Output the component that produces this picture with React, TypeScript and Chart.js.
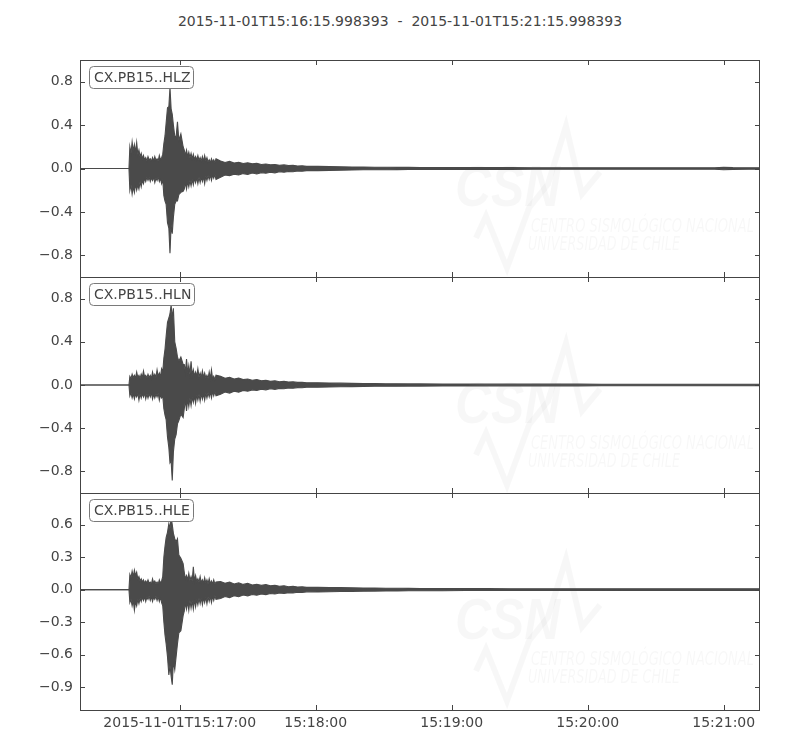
import React, { useEffect, useRef } from "react";
import { Chart, registerables } from "chart.js";
Chart.register(...registerables);

// ---------- data ----------
const startLabel = "2015-11-01T15:16:15.998393";
const endLabel = "2015-11-01T15:21:15.998393";
const channelNames = ["CX.PB15..HLZ", "CX.PB15..HLN", "CX.PB15..HLE"];

// seconds after start time
const xTickSeconds = [44.0016, 104.0016, 164.0016, 224.0016, 284.0016];
const xTickLabels = ["2015-11-01T15:17:00", "15:18:00", "15:19:00", "15:20:00", "15:21:00"];

const yTicksZ = [-0.8, -0.4, 0, 0.4, 0.8];
const yTicksN = [-0.8, -0.4, 0, 0.4, 0.8];
const yTicksE = [-0.9, -0.6, -0.3, 0, 0.3, 0.6];
const yMinMaxZ = [-1.0, 1.0];
const yMinMaxN = [-1.0, 1.0];
const yMinMaxE = [-1.113, 0.893];

// envelope sample times (s after start)
const envTimes = [
  0, 21.6,
  22, 22.5, 23, 23.5, 24, 24.5, 25, 25.5, 26, 26.5, 27, 27.5, 28, 28.5, 29, 29.5,
  30, 30.5, 31, 31.5, 32, 32.5, 33, 33.5, 34, 34.5, 35, 35.5, 36, 36.5, 37, 37.5,
  38, 38.6, 39.2, 39.7, 40.2, 40.7, 41.2, 41.8, 42.4, 43, 43.6, 44.5, 45.5,
  46, 46.5, 47, 47.5, 48, 48.5, 49, 49.5, 50, 50.5, 51, 51.5, 52, 52.5, 53, 53.5,
  54, 54.5, 55, 55.5, 56, 56.5, 57, 57.5, 58, 58.5, 59, 59.5, 60,
  62, 64, 66, 68, 70, 72, 74, 76, 78, 80, 82, 84, 86, 88, 90, 92, 94, 96, 98, 100,
  105, 110, 115, 120, 125, 130, 135, 140, 145, 150,
  160, 170, 180, 190, 200, 210, 220, 230, 240, 250, 260, 270, 280,
  284, 288, 295, 300,
];

const hlzUpper = [
  0, 0,
  0.20, 0.14, 0.245, 0.16, 0.22, 0.15, 0.24, 0.13, 0.17, 0.11, 0.14, 0.09, 0.12, 0.08, 0.10, 0.07,
  0.11, 0.08, 0.09, 0.065, 0.10, 0.07, 0.11, 0.075, 0.09, 0.07, 0.12, 0.08, 0.10, 0.13, 0.23, 0.30,
  0.42, 0.56, 0.57, 0.745, 0.55, 0.50, 0.40, 0.30, 0.29, 0.43, 0.26, 0.32, 0.20,
  0.17, 0.12, 0.17, 0.11, 0.15, 0.10, 0.14, 0.09, 0.13, 0.085, 0.11, 0.08, 0.12, 0.075, 0.10, 0.07,
  0.11, 0.065, 0.12, 0.07, 0.10, 0.06, 0.08, 0.055, 0.09, 0.06, 0.08, 0.055, 0.09,
  0.07, 0.055, 0.065, 0.05, 0.058, 0.046, 0.052, 0.043, 0.048, 0.037, 0.042, 0.034, 0.037, 0.03, 0.033, 0.027, 0.029, 0.023, 0.025, 0.02,
  0.02, 0.018, 0.016, 0.014, 0.013, 0.012, 0.011, 0.01, 0.01, 0.009,
  0.009, 0.008, 0.008, 0.008, 0.007, 0.007, 0.007, 0.007, 0.007, 0.007, 0.007, 0.007, 0.007,
  0.012, 0.008, 0.007, 0.007,
];
const hlzLower = [
  0, 0,
  -0.20, -0.15, -0.235, -0.17, -0.22, -0.14, -0.20, -0.15, -0.19, -0.12, -0.17, -0.11, -0.14, -0.09, -0.12, -0.08,
  -0.11, -0.08, -0.12, -0.085, -0.11, -0.08, -0.13, -0.09, -0.11, -0.075, -0.12, -0.09, -0.14, -0.10, -0.25, -0.30,
  -0.33, -0.50, -0.55, -0.78, -0.52, -0.60, -0.45, -0.33, -0.30, -0.30, -0.24, -0.22, -0.21,
  -0.19, -0.13, -0.19, -0.12, -0.17, -0.11, -0.16, -0.10, -0.15, -0.09, -0.13, -0.085, -0.14, -0.08, -0.13, -0.08,
  -0.12, -0.075, -0.14, -0.07, -0.11, -0.065, -0.10, -0.06, -0.11, -0.06, -0.09, -0.055, -0.10,
  -0.08, -0.06, -0.066, -0.052, -0.06, -0.047, -0.055, -0.042, -0.05, -0.038, -0.044, -0.034, -0.04, -0.03, -0.034, -0.027, -0.03, -0.023, -0.025, -0.02,
  -0.02, -0.018, -0.015, -0.013, -0.012, -0.011, -0.011, -0.01, -0.009, -0.009,
  -0.009, -0.008, -0.008, -0.008, -0.007, -0.007, -0.007, -0.007, -0.007, -0.007, -0.007, -0.007, -0.007,
  -0.012, -0.008, -0.007, -0.007,
];

const hlnUpper = [
  0, 0,
  0.08, 0.06, 0.10, 0.07, 0.09, 0.065, 0.12, 0.07, 0.09, 0.06, 0.10, 0.07, 0.13, 0.075, 0.09, 0.065,
  0.10, 0.07, 0.09, 0.06, 0.12, 0.075, 0.10, 0.07, 0.14, 0.08, 0.11, 0.075, 0.15, 0.12, 0.25, 0.33,
  0.45, 0.58, 0.62, 0.66, 0.74, 0.62, 0.71, 0.40, 0.34, 0.26, 0.22, 0.26, 0.19,
  0.19, 0.12, 0.24, 0.11, 0.18, 0.10, 0.22, 0.09, 0.14, 0.085, 0.12, 0.08, 0.15, 0.075, 0.11, 0.07,
  0.13, 0.07, 0.11, 0.065, 0.09, 0.06, 0.12, 0.06, 0.14, 0.055, 0.08, 0.05, 0.09,
  0.08, 0.062, 0.072, 0.055, 0.064, 0.05, 0.056, 0.044, 0.05, 0.039, 0.044, 0.034, 0.039, 0.03, 0.034, 0.027, 0.03, 0.024, 0.026, 0.021,
  0.02, 0.018, 0.017, 0.015, 0.014, 0.013, 0.012, 0.011, 0.01, 0.01,
  0.009, 0.009, 0.008, 0.008, 0.008, 0.008, 0.008, 0.007, 0.007, 0.007, 0.007, 0.007, 0.007,
  0.007, 0.007, 0.007, 0.007,
];
const hlnLower = [
  0, 0,
  -0.10, -0.07, -0.12, -0.08, -0.13, -0.085, -0.11, -0.075, -0.14, -0.08, -0.12, -0.08, -0.11, -0.075, -0.13, -0.08,
  -0.12, -0.08, -0.11, -0.07, -0.13, -0.085, -0.12, -0.08, -0.11, -0.075, -0.14, -0.09, -0.12, -0.10, -0.22, -0.28,
  -0.32, -0.48, -0.58, -0.72, -0.70, -0.885, -0.62, -0.50, -0.46, -0.36, -0.33, -0.27, -0.30,
  -0.22, -0.14, -0.24, -0.13, -0.20, -0.12, -0.19, -0.11, -0.16, -0.10, -0.17, -0.09, -0.14, -0.085, -0.15, -0.08,
  -0.13, -0.08, -0.14, -0.075, -0.12, -0.07, -0.11, -0.065, -0.12, -0.06, -0.10, -0.06, -0.10,
  -0.085, -0.065, -0.075, -0.057, -0.066, -0.05, -0.058, -0.045, -0.05, -0.04, -0.045, -0.035, -0.04, -0.031, -0.035, -0.028, -0.03, -0.024, -0.026, -0.021,
  -0.02, -0.018, -0.016, -0.015, -0.014, -0.012, -0.012, -0.011, -0.01, -0.01,
  -0.009, -0.009, -0.008, -0.008, -0.008, -0.008, -0.008, -0.007, -0.007, -0.007, -0.007, -0.007, -0.007,
  -0.007, -0.007, -0.007, -0.007,
];

const hleUpper = [
  0, 0,
  0.14, 0.11, 0.17, 0.12, 0.18, 0.13, 0.16, 0.10, 0.12, 0.08, 0.10, 0.07, 0.09, 0.06, 0.08, 0.06,
  0.09, 0.06, 0.07, 0.05, 0.10, 0.06, 0.08, 0.055, 0.07, 0.05, 0.09, 0.06, 0.08, 0.12, 0.30, 0.40,
  0.48, 0.53, 0.61, 0.56, 0.67, 0.60, 0.52, 0.47, 0.44, 0.47, 0.32, 0.29, 0.24,
  0.16, 0.10, 0.13, 0.09, 0.15, 0.085, 0.12, 0.08, 0.21, 0.08, 0.13, 0.075, 0.10, 0.07, 0.12, 0.065,
  0.09, 0.06, 0.11, 0.06, 0.09, 0.055, 0.10, 0.055, 0.08, 0.05, 0.09, 0.05, 0.07,
  0.075, 0.058, 0.07, 0.052, 0.062, 0.048, 0.057, 0.043, 0.05, 0.039, 0.046, 0.035, 0.04, 0.031, 0.035, 0.027, 0.031, 0.024, 0.026, 0.021,
  0.022, 0.02, 0.018, 0.016, 0.015, 0.014, 0.013, 0.012, 0.011, 0.01,
  0.01, 0.009, 0.009, 0.008, 0.008, 0.008, 0.008, 0.008, 0.007, 0.007, 0.007, 0.007, 0.007,
  0.007, 0.007, 0.007, 0.007,
];
const hleLower = [
  0, 0,
  -0.12, -0.09, -0.15, -0.10, -0.19, -0.11, -0.15, -0.09, -0.13, -0.08, -0.11, -0.07, -0.10, -0.065, -0.11, -0.07,
  -0.09, -0.06, -0.10, -0.065, -0.11, -0.07, -0.09, -0.06, -0.10, -0.065, -0.11, -0.07, -0.12, -0.15, -0.30, -0.42,
  -0.50, -0.62, -0.79, -0.70, -0.80, -0.88, -0.66, -0.74, -0.62, -0.50, -0.40, -0.38, -0.24,
  -0.20, -0.12, -0.18, -0.11, -0.19, -0.10, -0.17, -0.10, -0.18, -0.09, -0.16, -0.09, -0.14, -0.08, -0.13, -0.075,
  -0.14, -0.075, -0.12, -0.07, -0.13, -0.065, -0.11, -0.06, -0.12, -0.06, -0.10, -0.055, -0.09,
  -0.082, -0.064, -0.074, -0.056, -0.066, -0.05, -0.058, -0.045, -0.052, -0.04, -0.046, -0.036, -0.041, -0.032, -0.036, -0.028, -0.031, -0.024, -0.026, -0.021,
  -0.022, -0.02, -0.018, -0.016, -0.015, -0.014, -0.013, -0.012, -0.011, -0.01,
  -0.01, -0.009, -0.009, -0.008, -0.008, -0.008, -0.008, -0.008, -0.007, -0.007, -0.007, -0.007, -0.007,
  -0.007, -0.007, -0.007, -0.007,
];

// ---------- layout / style ----------
const W = 800;
const H = 750;
const PLOT_LEFT = 80;
const PLOT_RIGHT = 760;
const PANEL_EDGES = [60, 277, 493, 710];
const X_AXIS_H = 30;
const INK = "#444444";
const TRACE = "#4a4a4a";
const FONT = '"DejaVu Sans", Verdana, sans-serif';
const WATERMARK = "rgba(0,0,0,0.03)";

const panels = [
  { name: channelNames[0], upper: hlzUpper, lower: hlzLower, yTicks: yTicksZ, range: yMinMaxZ },
  { name: channelNames[1], upper: hlnUpper, lower: hlnLower, yTicks: yTicksN, range: yMinMaxN },
  { name: channelNames[2], upper: hleUpper, lower: hleLower, yTicks: yTicksE, range: yMinMaxE },
];

const fmtY = (v: number) => {
  const s = Math.abs(v).toFixed(1);
  return v < 0 ? "\u2212" + s : s;
};

const drawWatermark = (ctx: CanvasRenderingContext2D, top: number) => {
  ctx.save();
  ctx.fillStyle = WATERMARK;
  ctx.strokeStyle = WATERMARK;
  ctx.save();
  ctx.font = `italic bold 58px "Liberation Sans", Arial, sans-serif`;
  ctx.translate(455, top + 146);
  ctx.scale(0.86, 1);
  ctx.textBaseline = "alphabetic";
  ctx.fillText("CSN", 0, 0);
  ctx.restore();
  ctx.lineWidth = 6;
  ctx.lineJoin = "miter";
  ctx.beginPath();
  const pts = [
    [476, 178], [486, 156], [507, 208], [529, 148], [548, 124], [566, 66], [582, 134], [600, 112],
  ];
  pts.forEach(([x, y], i) => (i ? ctx.lineTo(x, top + y) : ctx.moveTo(x, top + y)));
  ctx.stroke();
  const lines: [string, number, number, number][] = [
    ["CENTRO SISMOLÓGICO NACIONAL", 531, 172, 223],
    ["UNIVERSIDAD DE CHILE", 528, 190, 152],
  ];
  ctx.font = `italic 20px "DejaVu Sans Condensed", "Liberation Sans", sans-serif`;
  lines.forEach(([t, x, y, w]) => {
    const m = ctx.measureText(t).width;
    ctx.save();
    ctx.translate(x, top + y);
    ctx.scale(w / m, 1);
    ctx.fillText(t, 0, 0);
    ctx.restore();
  });
  ctx.restore();
};

const panelPlugin = {
  id: "panelDecor",
  beforeDatasetsDraw(chart: any) {
    const { ctx, chartArea } = chart;
    ctx.save();
    ctx.beginPath();
    ctx.rect(chartArea.left, chartArea.top, chartArea.right - chartArea.left, chartArea.bottom - chartArea.top);
    ctx.clip();
    drawWatermark(ctx, chartArea.top);
    ctx.restore();
  },
  afterDatasetsDraw(chart: any, _a: any, opts: any) {
    const { ctx, chartArea, scales } = chart;
    const { left, right, top, bottom } = chartArea;
    ctx.save();
    ctx.strokeStyle = INK;
    ctx.lineWidth = 1;
    const tl = 5;
    ctx.beginPath();
    scales.y.ticks.forEach((t: any) => {
      const y = Math.round(scales.y.getPixelForValue(t.value)) + 0.5;
      ctx.moveTo(left, y);
      ctx.lineTo(left + tl, y);
      ctx.moveTo(right, y);
      ctx.lineTo(right - tl, y);
    });
    xTickSeconds.forEach((s) => {
      const x = Math.round(scales.x.getPixelForValue(s)) + 0.5;
      ctx.moveTo(x, top);
      ctx.lineTo(x, top + tl);
      ctx.moveTo(x, bottom);
      ctx.lineTo(x, bottom - tl);
    });
    ctx.stroke();
    const L = Math.round(left) + 0.5;
    const R = Math.round(right) - 0.5;
    const T = Math.round(top) + 0.5;
    const B = Math.round(bottom) + 0.5;
    ctx.strokeRect(L, T, R - L, B - T);
    // channel label box
    const bx = left + 9.5;
    const by = top + 6.5;
    ctx.font = `14px ${FONT}`;
    const tw = ctx.measureText(opts.label).width;
    const bw = Math.round(tw + 8);
    const bh = 22;
    ctx.beginPath();
    if ((ctx as any).roundRect) (ctx as any).roundRect(bx, by, bw, bh, 4);
    else ctx.rect(bx, by, bw, bh);
    ctx.fillStyle = "#ffffff";
    ctx.fill();
    ctx.strokeStyle = "#7a7a7a";
    ctx.stroke();
    ctx.fillStyle = INK;
    ctx.textBaseline = "middle";
    ctx.textAlign = "left";
    ctx.fillText(opts.label, bx + 4.5, by + bh / 2 + 0.5);
    ctx.restore();
  },
};

const makeConfig = (i: number): any => {
  const p = panels[i];
  const isLast = i === panels.length - 1;
  const top = PANEL_EDGES[i];
  const bottom = PANEL_EDGES[i + 1];
  const upperPts = envTimes.map((t, k) => ({ x: t, y: p.upper[k] }));
  const lowerPts = envTimes.map((t, k) => ({ x: t, y: p.lower[k] }));
  return {
    type: "line",
    data: {
      datasets: [
        {
          data: upperPts,
          borderColor: TRACE,
          backgroundColor: TRACE,
          borderWidth: 1.1,
          pointRadius: 0,
          tension: 0,
          fill: "+1",
        },
        {
          data: lowerPts,
          borderColor: TRACE,
          backgroundColor: TRACE,
          borderWidth: 1.1,
          pointRadius: 0,
          tension: 0,
          fill: false,
        },
      ],
    },
    options: {
      animation: false,
      responsive: false,
      events: [],
      layout: {
        padding: {
          left: 0,
          right: W - PLOT_RIGHT,
          top: top,
          bottom: H - bottom - (isLast ? X_AXIS_H : 0),
        },
      },
      plugins: {
        legend: { display: false },
        tooltip: { enabled: false },
        panelDecor: { label: p.name },
      },
      scales: {
        x: {
          type: "linear",
          min: 0,
          max: 300,
          display: isLast,
          grid: { display: false, drawTicks: false },
          border: { display: false },
          afterBuildTicks: (s: any) => {
            s.ticks = xTickSeconds.map((v) => ({ value: v }));
          },
          afterFit: (s: any) => {
            s.height = isLast ? X_AXIS_H : 0;
          },
          ticks: {
            autoSkip: false,
            maxRotation: 0,
            padding: 5,
            color: INK,
            font: { family: FONT, size: 14 },
            callback: (v: number) => {
              const idx = xTickSeconds.indexOf(v);
              return idx >= 0 ? xTickLabels[idx] : "";
            },
          },
        },
        y: {
          type: "linear",
          min: p.range[0],
          max: p.range[1],
          grid: { display: false, drawTicks: false },
          border: { display: false },
          afterBuildTicks: (s: any) => {
            s.ticks = p.yTicks.map((v) => ({ value: v }));
          },
          afterFit: (s: any) => {
            s.width = PLOT_LEFT;
          },
          ticks: {
            padding: 7,
            color: INK,
            font: { family: FONT, size: 14 },
            callback: (v: number) => fmtY(v),
          },
        },
      },
    },
    plugins: [panelPlugin],
  };
};

export default function App() {
  const r0 = useRef<HTMLCanvasElement>(null);
  const r1 = useRef<HTMLCanvasElement>(null);
  const r2 = useRef<HTMLCanvasElement>(null);
  const refs = [r0, r1, r2];

  useEffect(() => {
    const charts = refs.map((r, i) => new Chart(r.current as HTMLCanvasElement, makeConfig(i)));
    return () => charts.forEach((c) => c.destroy());
  }, []);

  const canvasStyle: React.CSSProperties = {
    position: "absolute",
    left: 0,
    top: 0,
    width: W,
    height: H,
  };

  return (
    <div style={{ position: "absolute", left: 0, top: 0, width: W, height: H, background: "#ffffff", overflow: "hidden" }}>
      <div
        style={{
          position: "absolute",
          top: 12,
          left: 0,
          width: W,
          textAlign: "center",
          fontFamily: FONT,
          fontSize: 14,
          lineHeight: "18px",
          color: INK,
          whiteSpace: "pre",
        }}
      >
        {`${startLabel}  -  ${endLabel}`}
      </div>
      {refs.map((r, i) => (
        <canvas key={i} ref={r} width={W} height={H} style={canvasStyle} />
      ))}
    </div>
  );
}
